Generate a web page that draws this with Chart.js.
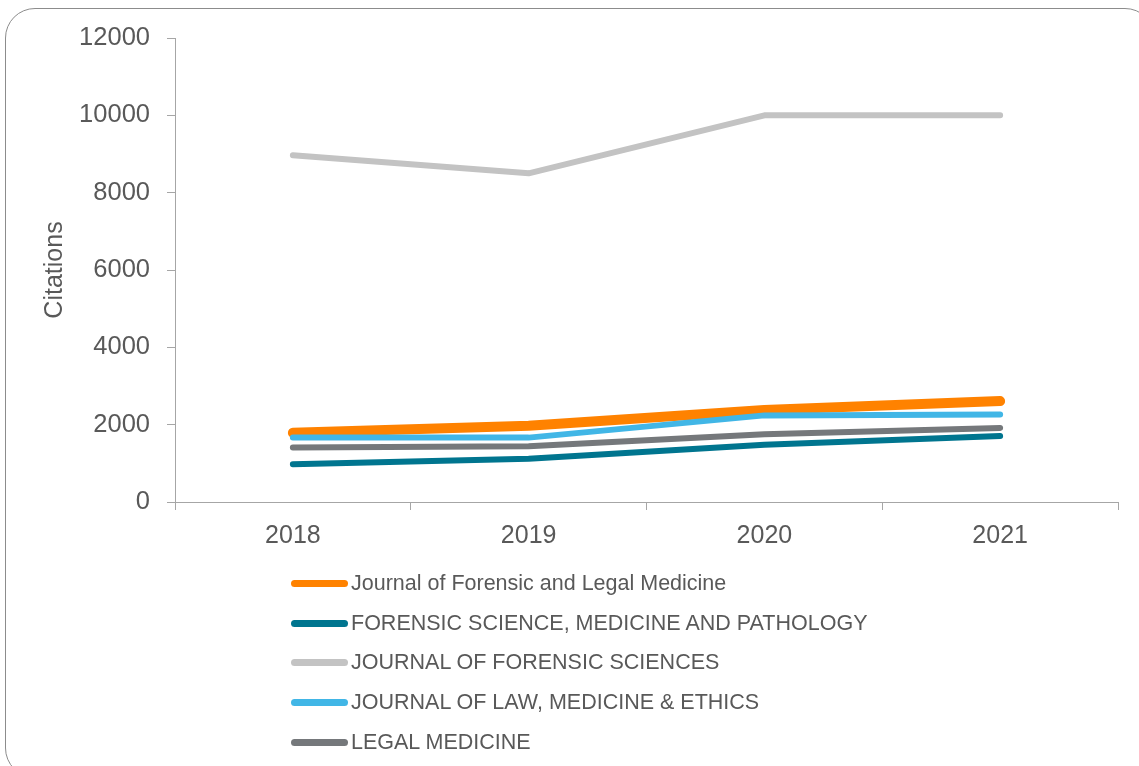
<!DOCTYPE html>
<html>
<head>
<meta charset="utf-8">
<script src="https://cdn.jsdelivr.net/npm/chart.js@4/dist/chart.umd.min.js"></script>
<style>
  html, body { margin: 0; padding: 0; background: #fff; overflow: hidden; width: 1139px; height: 766px; }
  #frame { position: absolute; left: 5px; top: 8px; width: 1150px; height: 770px; border: 1.5px solid #8c8c8c; border-radius: 30px; box-sizing: border-box; pointer-events: none; }
  #wrap { position: absolute; left: 0; top: 0; width: 1139px; height: 766px; }
  #legend { position: absolute; left: 291px; top: 564px; font-family: "Liberation Sans", Arial, sans-serif; font-size: 21.5px; color: #595959; }
  .row { height: 39.6px; display: flex; align-items: center; white-space: nowrap; }
  .swatch { width: 57px; height: 7px; border-radius: 4px; margin-right: 3px; }
</style>
</head>
<body>
<div id="frame"></div>
<div id="wrap"><canvas id="c" width="1139" height="766"></canvas></div>
<div id="legend"></div>
<script>
const years = ['2018', '2019', '2020', '2021'];
const seriesNames = [
  'Journal of Forensic and Legal Medicine',
  'FORENSIC SCIENCE, MEDICINE AND PATHOLOGY',
  'JOURNAL OF FORENSIC SCIENCES',
  'JOURNAL OF LAW, MEDICINE & ETHICS',
  'LEGAL MEDICINE'
];
const jflm = [1790, 1970, 2380, 2610];
const fsmp = [975, 1120, 1480, 1705];
const jfs = [8970, 8500, 10000, 10000];
const jlme = [1665, 1665, 2240, 2265];
const legalMed = [1410, 1440, 1750, 1915];
const yTicks = [0, 2000, 4000, 6000, 8000, 10000, 12000];

const seriesValues = [jflm, fsmp, jfs, jlme, legalMed];
const colors = ['#FF8200', '#00758F', '#C3C3C3', '#41B6E6', '#75787B'];
const widths = [10, 6, 6, 6, 6];

const datasets = seriesNames.map((name, i) => ({
  label: name,
  data: seriesValues[i],
  borderColor: colors[i],
  backgroundColor: colors[i],
  borderWidth: widths[i],
  borderCapStyle: 'round',
  borderJoinStyle: 'round',
  pointRadius: 0,
  pointHoverRadius: 0,
  tension: 0,
  fill: false,
  order: seriesNames.length - 1 - i
}));

const fontFamily = '"Liberation Sans", Arial, sans-serif';
const axisColor = '#A6A6A6';
const textColor = '#595959';

new Chart(document.getElementById('c'), {
  type: 'line',
  data: { labels: years, datasets: datasets },
  options: {
    responsive: false,
    animation: false,
    events: [],
    layout: { padding: { top: 38, right: 21, bottom: 204, left: 0 } },
    plugins: { legend: { display: false }, tooltip: { enabled: false } },
    scales: {
      x: {
        type: 'category',
        offset: true,
        grid: { display: true, offset: true, drawOnChartArea: false, drawTicks: true, tickLength: 8, color: axisColor, lineWidth: 1 },
        border: { display: true, color: axisColor, width: 1 },
        ticks: { color: textColor, font: { family: fontFamily, size: 25 }, padding: 11, maxRotation: 0 }
      },
      y: {
        min: 0,
        max: 12000,
        afterFit: (scale) => { scale.width = 175; },
        afterBuildTicks: (scale) => { scale.ticks = yTicks.map(v => ({ value: v })); },
        grid: { display: true, drawOnChartArea: false, drawTicks: true, tickLength: 8, color: axisColor, lineWidth: 1 },
        border: { display: true, color: axisColor, width: 1 },
        ticks: { color: textColor, font: { family: fontFamily, size: 25.5 }, padding: 17, callback: (v) => String(v) },
        title: { display: true, text: 'Citations', color: textColor, font: { family: fontFamily, size: 25 }, padding: { top: 40, bottom: 0 } }
      }
    }
  }
});

const legend = document.getElementById('legend');
seriesNames.forEach((name, i) => {
  const row = document.createElement('div');
  row.className = 'row';
  const sw = document.createElement('span');
  sw.className = 'swatch';
  sw.style.background = colors[i];
  const tx = document.createElement('span');
  tx.textContent = name;
  row.appendChild(sw);
  row.appendChild(tx);
  legend.appendChild(row);
});
</script>
</body>
</html>
